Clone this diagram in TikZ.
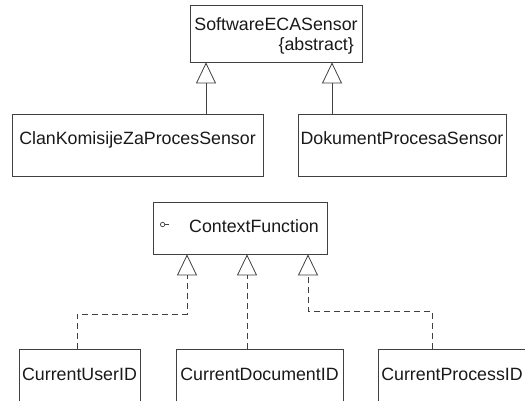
\documentclass[tikz,border=0pt]{standalone}
\usepackage{fontspec}
\setmainfont{Liberation Sans}
\usetikzlibrary{arrows.meta}
\begin{document}
\begin{tikzpicture}[x=1pt,y=-1pt,
  ln/.style={draw=black!75, line width=0.8pt},
  txt/.style={text=black!90, font=\fontsize{17.8}{20}\selectfont, inner sep=0pt},
  cls/.style={ln, txt, text height=12pt, text depth=12pt},
  gen/.style={ln, -{Triangle[open,length=21pt,width=20pt]}},
  real/.style={gen, dash pattern=on 6pt off 4pt}]
\useasboundingbox (0,0) rectangle (525,401);
\clip (0,0) rectangle (525,401);
% top hierarchy
\node[ln, minimum width=172pt, minimum height=57pt, inner sep=0pt] (s) at (276,33.5) {};
\node[txt, anchor=base] (st) at (276,31) {SoftwareECASensor};
\node[txt, anchor=base east] (sa) at (354,51) {\{abstract\}};
\node[cls, minimum width=251pt, minimum height=62pt] (clan) at (137.5,145) {ClanKomisijeZaProcesSensor};
\node[cls, minimum width=208pt, minimum height=62pt] (dok) at (402,145) {DokumentProcesaSensor};
% interface
\node[cls, text depth=2pt, minimum width=174pt, minimum height=52pt] (cf) at (240,228) {\hspace*{28pt}ContextFunction};
\draw[ln, line width=0.7pt] ([shift={(10,-3.5)}]cf.west) circle[radius=2.2pt];
\draw[ln, line width=0.7pt] ([shift={(12.2,-3.5)}]cf.west) -- ++(4.5,0);
\node[cls, minimum width=121pt, minimum height=62pt] (u) at (79.5,380) {CurrentUserID};
\node[cls, minimum width=167pt, minimum height=62pt] (d) at (259.5,380) {CurrentDocumentID};
\node[cls, minimum width=148pt, minimum height=62pt] (p) at (452,380) {CurrentProcessID};
% helper coordinates
\coordinate (xa) at (206,0);
\coordinate (xb) at (332,0);
\coordinate (xc) at (187,0);
\coordinate (xd) at (247,0);
\coordinate (xe) at (308,0);
\coordinate (xu) at (77,0);
\coordinate (xp) at (432,0);
\coordinate (ya) at (0,314);
\coordinate (yb) at (0,311);
% connectors
\draw[gen] (clan.north -| xa) -- (s.south -| xa);
\draw[gen] (dok.north -| xb) -- (s.south -| xb);
\draw[real] (u.north -| xu) |- (ya -| xc) -- (cf.south -| xc);
\draw[real] (d.north -| xd) -- (cf.south -| xd);
\draw[real] (p.north -| xp) |- (yb -| xe) -- (cf.south -| xe);
\end{tikzpicture}
\end{document}
